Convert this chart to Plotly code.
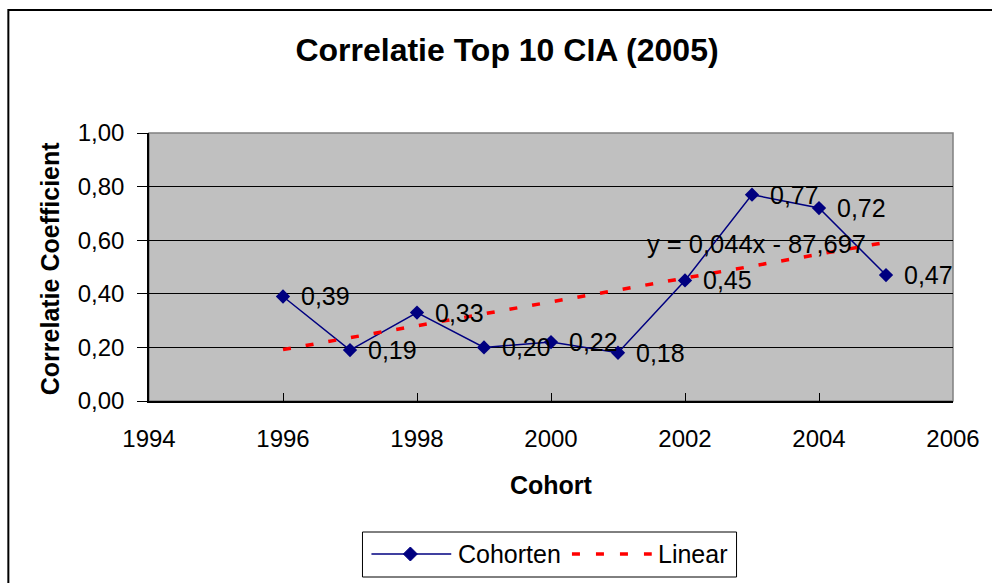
import numpy as np
import plotly.graph_objects as go

# ---- data ----
years = [1996, 1997, 1998, 1999, 2000, 2001, 2002, 2003, 2004, 2005]
correlation = [0.39, 0.19, 0.33, 0.20, 0.22, 0.18, 0.45, 0.77, 0.72, 0.47]
title_text = "Correlatie Top 10 CIA (2005)"
x_title = "Cohort"
y_title = "Correlatie Coefficient"
series_name = "Cohorten"
trend_name = "Linear"
equation_text = "y = 0,044x - 87,697"

# linear trend (least squares from the data)
slope, intercept = np.polyfit(years, correlation, 1)
trend_x = [years[0], years[-1]]
trend_y = [slope * x + intercept for x in trend_x]

FONT = "Liberation Sans, Arial, sans-serif"
NAVY = "#000080"
RED = "#FF0000"

fig = go.Figure()
fig.add_trace(go.Scatter(
    x=years, y=correlation, name=series_name, mode="lines+markers",
    line=dict(color=NAVY, width=1.5),
    marker=dict(symbol="diamond", size=11, color=NAVY),
    cliponaxis=False, showlegend=False,
))
fig.add_trace(go.Scatter(
    x=trend_x, y=trend_y, name=trend_name, mode="lines",
    line=dict(color=RED, width=3.5, dash="8px,15px"), showlegend=False,
))

W, H = 992, 583
L, R, T, B = 149, 955, 133, 401
pw, ph = R - L, B - T


def px_x(p):
    return (p - L) / pw


def px_y(p):
    return (B - p) / ph


shapes = [
    # plot-area frame (top / right gray)
    dict(type="rect", xref="paper", yref="paper", x0=0, x1=1, y0=0, y1=1,
         line=dict(color="#808080", width=1.5), layer="below"),
    # outer chart border
    dict(type="rect", xref="paper", yref="paper",
         x0=px_x(8), x1=px_x(1000), y0=px_y(592), y1=px_y(10),
         line=dict(color="black", width=2)),
    # legend box
    dict(type="rect", xref="paper", yref="paper",
         x0=px_x(363), x1=px_x(738), y0=px_y(577), y1=px_y(532),
         line=dict(color="black", width=1), fillcolor="white"),
    # legend sample: series line
    dict(type="line", xref="paper", yref="paper",
         x0=px_x(372), x1=px_x(452), y0=px_y(554), y1=px_y(554),
         line=dict(color=NAVY, width=1.5)),
    # legend sample: diamond marker
    dict(type="path", xref="paper", yref="paper",
         xsizemode="pixel", ysizemode="pixel",
         xanchor=px_x(411), yanchor=px_y(554),
         path="M -7 0 L 0 7 L 7 0 L 0 -7 Z",
         fillcolor=NAVY, line=dict(color=NAVY, width=1)),
    # legend sample: trend line
    dict(type="line", xref="paper", yref="paper",
         x0=px_x(573), x1=px_x(653), y0=px_y(554), y1=px_y(554),
         line=dict(color=RED, width=3.5, dash="8px,16px")),
]

annotations = [
    dict(text=f"<b>{x_title}</b>", xref="paper", yref="paper",
         x=px_x(552), y=px_y(485), showarrow=False,
         font=dict(family=FONT, size=25, color="black"),
         xanchor="center", yanchor="middle"),
    dict(text=f"<b>{y_title}</b>", xref="paper", yref="paper",
         x=px_x(50), y=px_y(268), showarrow=False, textangle=-90,
         font=dict(family=FONT, size=25, color="black"),
         xanchor="center", yanchor="middle"),
    dict(text=equation_text, xref="x", yref="y",
         x=1994 + (758 - L) / pw * 12, y=(B - 244) / ph, showarrow=False,
         font=dict(family=FONT, size=25.5, color="black"),
         xanchor="center", yanchor="middle"),
    dict(text=series_name, xref="paper", yref="paper",
         x=px_x(457), y=px_y(554), showarrow=False,
         font=dict(family=FONT, size=25, color="black"),
         xanchor="left", yanchor="middle"),
    dict(text=trend_name, xref="paper", yref="paper",
         x=px_x(657), y=px_y(554), showarrow=False,
         font=dict(family=FONT, size=25, color="black"),
         xanchor="left", yanchor="middle"),
]

# data labels right of each point
for xv, yv in zip(years, correlation):
    annotations.append(dict(
        text=f"{yv:.2f}".replace(".", ","), xref="x", yref="y",
        x=xv, y=yv, showarrow=False, xanchor="left", yanchor="middle",
        xshift=16, font=dict(family=FONT, size=25, color="black")))

fig.update_layout(
    width=W, height=H,
    margin=dict(l=L, r=W - R, t=T, b=H - B, pad=0),
    paper_bgcolor="white", plot_bgcolor="#C0C0C0",
    separators=",.",
    font=dict(family=FONT, size=24, color="black"),
    title=dict(text=f"<b>{title_text}</b>", x=507 / W,
               xanchor="center", y=1 - 50 / H, yanchor="middle",
               font=dict(family=FONT, size=32, color="black")),
    xaxis=dict(range=[1994, 2006], dtick=2, tick0=1994, tickformat="d",
               ticks="inside", ticklen=8, tickcolor="black", tickwidth=1,
               showline=True, linecolor="black", linewidth=1.5,
               showgrid=False, zeroline=False, ticklabelstandoff=15,
               tickfont=dict(family=FONT, size=24, color="black")),
    yaxis=dict(range=[0, 1], dtick=0.2, tick0=0, tickformat=".2f",
               ticks="outside", ticklen=10, tickcolor="black", tickwidth=1,
               showline=True, linecolor="black", linewidth=1.5,
               showgrid=True, gridcolor="black", gridwidth=1,
               zeroline=False, ticklabelstandoff=8,
               tickfont=dict(family=FONT, size=24, color="black")),
    showlegend=False,
    shapes=shapes,
    annotations=annotations,
)

fig.write_html(
    "out.html",
    config={"displayModeBar": False},
    post_script="document.body.style.margin='0';document.body.style.overflow='hidden';",
)
